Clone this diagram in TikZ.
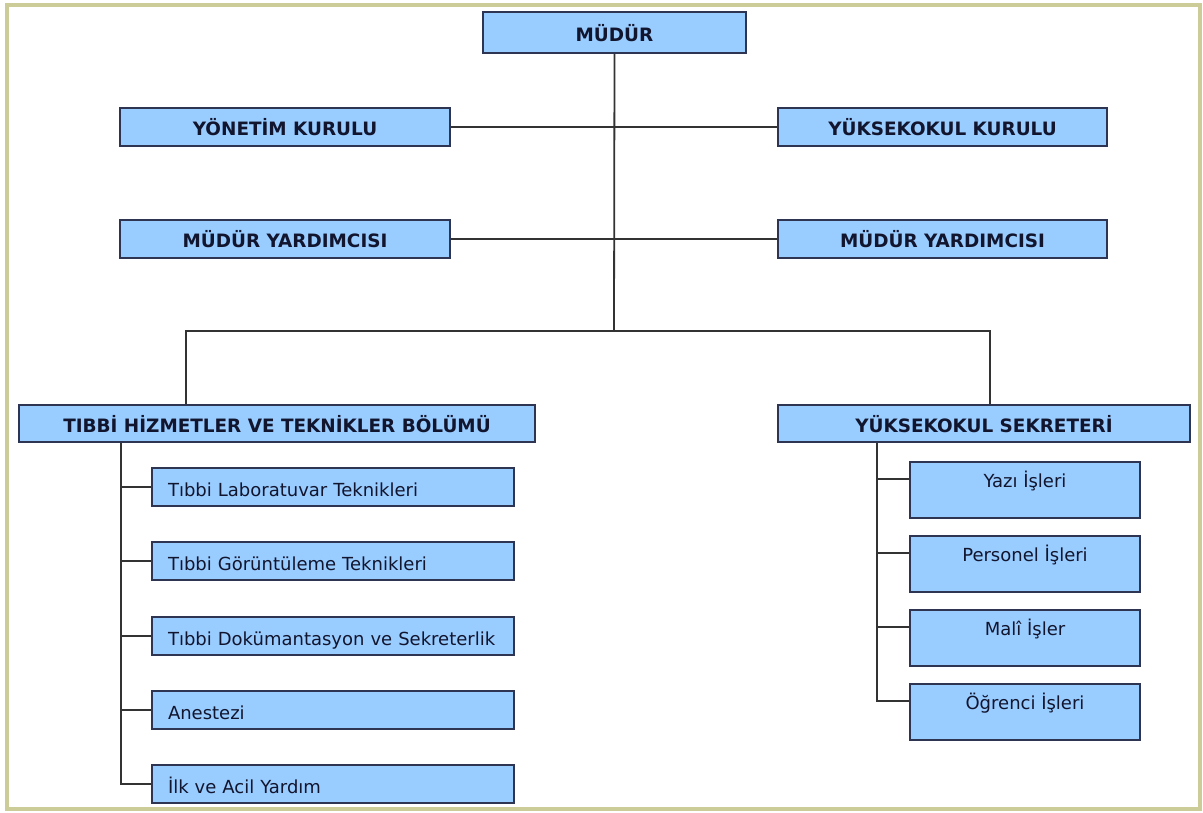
\documentclass[tikz,border=0pt]{standalone}
\usepackage{fontspec}
\setmainfont{DejaVu Sans}
\usetikzlibrary{calc}
\definecolor{boxfill}{HTML}{99CCFF}
\definecolor{boxdraw}{HTML}{2E3553}
\definecolor{linecol}{HTML}{333333}
\definecolor{txt}{HTML}{12152E}
\definecolor{framecol}{HTML}{CCCC99}
\begin{document}
\begin{tikzpicture}[x=1pt,y=-1pt,
  base/.style={draw=boxdraw, fill=boxfill, line width=1.5pt, inner sep=0pt, text=txt},
  titlebox/.style={base, font=\fontsize{18.4}{21}\selectfont\bfseries, text height=17.5pt, text depth=0pt},
  subl/.style={base, font=\fontsize{18}{21}\selectfont, minimum width=362pt, minimum height=38pt, text width=330pt, align=left, text height=19pt, text depth=0pt},
  subr/.style={base, font=\fontsize{18}{21}\selectfont, minimum width=230pt, text height=26pt, text depth=30pt, anchor=north},
  conn/.style={draw=linecol, line width=1.8pt}]
\useasboundingbox (0,0) rectangle (1203,812);
\draw[framecol, line width=4pt] (7,5) rectangle (1200,809);

\node[titlebox, minimum width=263pt, minimum height=41pt] (mudur) at (614.5,32.5) {MÜDÜR};
\node[titlebox, minimum width=330pt, minimum height=38pt] (yk) at (285,127) {YÖNETİM KURULU};
\node[titlebox, minimum width=329pt, minimum height=38pt] (ykk) at (942.5,127) {YÜKSEKOKUL KURULU};
\node[titlebox, minimum width=330pt, minimum height=38pt] (my1) at (285,239) {MÜDÜR YARDIMCISI};
\node[titlebox, minimum width=329pt, minimum height=38pt] (my2) at (942.5,239) {MÜDÜR YARDIMCISI};
\node[titlebox, minimum width=516pt, minimum height=37pt] (tibbi) at (277,423.5) {TIBBİ HİZMETLER VE TEKNİKLER BÖLÜMÜ};
\node[titlebox, minimum width=412pt, minimum height=37pt] (sek) at (984,423.5) {YÜKSEKOKUL SEKRETERİ};

\node[subl] (s1) at (333,487) {Tıbbi Laboratuvar Teknikleri};
\node[subl] (s2) at (333,561) {Tıbbi Görüntüleme Teknikleri};
\node[subl] (s3) at (333,636) {Tıbbi Dokümantasyon ve Sekreterlik};
\node[subl] (s4) at (333,710) {Anestezi};
\node[subl] (s5) at (333,784) {İlk ve Acil Yardım};

\node[subr] (r1) at (1025,461) {Yazı İşleri};
\node[subr] (r2) at (1025,535) {Personel İşleri};
\node[subr] (r3) at (1025,609) {Malî İşler};
\node[subr] (r4) at (1025,683) {Öğrenci İşleri};

\coordinate (j) at (614,331);
\coordinate (tl) at (186,331);
\coordinate (tr) at (990,331);
\coordinate (lv) at (121,0);
\coordinate (rv) at (877,0);

\draw[conn] (mudur.south) -- (j);
\draw[conn] (yk.east) -- (ykk.west);
\draw[conn] (my1.east) -- (my2.west);
\draw[conn] (tl |- tibbi.north) -- (tl) -- (tr) -- (tr |- sek.north);

\draw[conn] (lv |- tibbi.south) |- (s5.west);
\foreach \n in {s1,s2,s3,s4} {\draw[conn] (lv |- \n.west) -- (\n.west);}

\foreach \n in {r1,r2,r3,r4} {\coordinate (\n c) at ($(\n.north west)+(0,18)$);}
\draw[conn] (rv |- sek.south) |- (r4c);
\foreach \n in {r1,r2,r3} {\draw[conn] (rv |- \n c) -- (\n c);}
\end{tikzpicture}
\end{document}
